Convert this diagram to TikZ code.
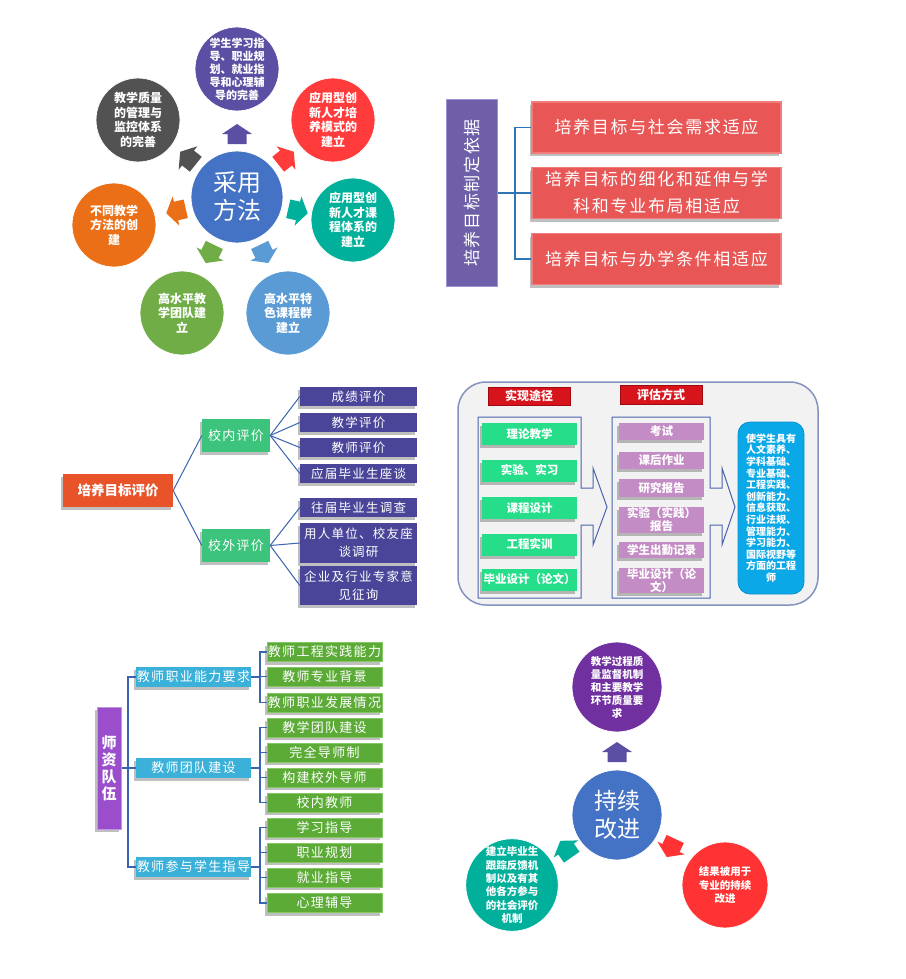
\documentclass[tikz,border=0pt]{standalone}
\usepackage{fontspec}
\setmainfont{Noto Sans CJK SC}
\newfontfamily\widefont{Noto Sans CJK SC}[LetterSpace=10]
\usetikzlibrary{shadows}
\newcommand\myfs[2]{\fontsize{#1}{#2}\selectfont}
\definecolor{cblue}{HTML}{4472C4}
\definecolor{cpurple}{HTML}{5B4FA3}
\definecolor{cred}{HTML}{FF3B3B}
\definecolor{cteal}{HTML}{00B09A}
\definecolor{cltblue}{HTML}{5B9BD5}
\definecolor{cgreen}{HTML}{70AD47}
\definecolor{corange}{HTML}{EA6F16}
\definecolor{cgray}{HTML}{525252}
\definecolor{barpurple}{HTML}{6E5FA8}
\definecolor{barpurpleL}{HTML}{9E92D4}
\definecolor{boxred}{HTML}{E85656}
\definecolor{boxredL}{HTML}{F07C7C}
\definecolor{linkblue}{HTML}{2E75B6}
\definecolor{rootred}{HTML}{E9532A}
\definecolor{treegreen}{HTML}{3CC37C}
\definecolor{navy}{HTML}{4A4598}
\definecolor{treeline}{HTML}{3A63B0}
\definecolor{bggray}{HTML}{F2F2F2}
\definecolor{framegray}{HTML}{8592BF}
\definecolor{frameblue}{HTML}{4A64AE}
\definecolor{hred}{HTML}{D7141C}
\definecolor{hdark}{HTML}{9E0A10}
\definecolor{mgreen}{HTML}{26DE8A}
\definecolor{mpink}{HTML}{C48CC4}
\definecolor{mcyan}{HTML}{0BA8E8}
\definecolor{mcyanD}{HTML}{0A8FD0}
\definecolor{tpurple}{HTML}{9A4ECB}
\definecolor{tcyan}{HTML}{3BB1D9}
\definecolor{tgreen}{HTML}{5CAB37}
\definecolor{tgreenL}{HTML}{86C765}
\definecolor{bpurple}{HTML}{7030A0}
\definecolor{bred}{HTML}{FF3333}
\definecolor{bteal}{HTML}{00B09B}
\tikzset{
  pics/barrow/.style={code={\fill[#1] (-10pt,-9.5pt) -- (0pt,-9.5pt) -- (0pt,-15pt) -- (10pt,0pt) -- (0pt,15pt) -- (0pt,9.5pt) -- (-10pt,9.5pt) -- cycle;}},
  box/.style={rectangle, inner sep=0pt, align=center, text=white},
  circ/.style={circle, inner sep=0pt, align=center, text=white, draw=white, line width=0.8pt},
  shad/.style={drop shadow={shadow xshift=-2pt,shadow yshift=-3pt,opacity=.25,fill=black}},
  conn/.style={draw=linkblue, line width=1.3pt},
  tline/.style={draw=treeline, line width=1pt},
  sline/.style={draw=treeline, line width=1.2pt},
  redbox/.style={box, fill=boxred, draw=boxredL, line width=1.5pt, minimum width=249, minimum height=51, font=\widefont\myfs{17}{27}, shad},
  navybox/.style={box, fill=navy, minimum width=117, minimum height=19, font=\widefont\myfs{12.5}{18}, shad},
  tgbox/.style={box, fill=treegreen, minimum width=68, minimum height=33, font=\widefont\myfs{13}{15}, shad},
  gbox/.style={box, fill=mgreen, minimum width=95, minimum height=22, font=\bfseries\myfs{11.5}{13}, shad},
  pbox/.style={box, fill=mpink, minimum width=85, font=\bfseries\myfs{11.5}{13}, shad},
  cybox/.style={box, fill=tcyan, minimum width=115, minimum height=20, font=\widefont\myfs{13}{15}, shad},
  grbox/.style={box, fill=tgreen, draw=tgreenL, line width=0.6pt, minimum width=115, minimum height=19, font=\widefont\myfs{13}{15}, shad},
}
\begin{document}
\begin{tikzpicture}[x=1pt,y=-1pt]
\useasboundingbox (0,0) rectangle (905,979);
\fill[white] (0,0) rectangle (905,979);

% ===== top-left: radial =====
\node[circ, fill=cblue, minimum size=92, font=\myfs{24}{28}] (cen1) at (237,197) {采用\\方法};
\node[circ, fill=cpurple, minimum size=84, font=\bfseries\myfs{11}{13}] (tl1) at (237,69) {学生学习指\\导、职业规\\划、就业指\\导和心理辅\\导的完善};
\node[circ, fill=cred, minimum size=84, font=\bfseries\myfs{12}{14.5}] (tl2) at (333,120) {应用型创\\新人才培\\养模式的\\建立};
\node[circ, fill=cteal, minimum size=84, font=\bfseries\myfs{12}{14.5}] (tl3) at (353,220) {应用型创\\新人才课\\程体系的\\建立};
\node[circ, fill=cltblue, minimum size=84, font=\bfseries\myfs{12}{14.5}] (tl4) at (288,313) {高水平特\\色课程群\\建立};
\node[circ, fill=cgreen, minimum size=84, font=\bfseries\myfs{12}{14.5}] (tl5) at (182,313) {高水平教\\学团队建\\立};
\node[circ, fill=corange, minimum size=84, font=\bfseries\myfs{12}{14.5}] (tl6) at (114,225) {不同教学\\方法的创\\建};
\node[circ, fill=cgray, minimum size=84, font=\bfseries\myfs{12}{14.5}] (tl7) at (138,120) {教学质量\\的管理与\\监控体系\\的完善};
\pic[rotate=90] at (237,134) {barrow=cpurple};
\pic[rotate=38.6] at (286,158) {barrow=cred};
\pic[rotate=-12.9] at (298,211) {barrow=cteal};
\pic[rotate=-64.3] at (264,254) {barrow=cltblue};
\pic[rotate=-115.7] at (210,254) {barrow=cgreen};
\pic[rotate=192.9] at (176,211) {barrow=corange};
\pic[rotate=141.4] at (188,158) {barrow=cgray};

% ===== top-right =====
\node[box, rotate=90, fill=barpurple, draw=barpurpleL, line width=1.5pt, minimum width=187, minimum height=51, font=\widefont\myfs{17}{20}] (bar1) at (472,193) {培养目标制定依据};
\node[redbox] (r1) at (656.5,127.5) {培养目标与社会需求适应};
\node[redbox] (r2) at (656.5,193) {培养目标的细化和延伸与学\\科和专业布局相适应};
\node[redbox] (r3) at (656.5,259) {培养目标与办学条件相适应};
\coordinate (tj) at (515,193);
\draw[conn] (bar1.south) -- (tj);
\draw[conn] (r1.west) -| (tj) |- (r3.west);
\draw[conn] (tj) -- (r2.west);

% ===== middle-left tree =====
\node[box, fill=rootred, minimum width=110, minimum height=33, font=\bfseries\myfs{13.5}{16}, shad] (root) at (118,490.5) {培养目标评价};
\node[tgbox] (xn) at (236,435.5) {校内评价};
\node[tgbox] (xw) at (236,545.5) {校外评价};
\node[navybox] (p1) at (358.5,396.5) {成绩评价};
\node[navybox] (p2) at (358.5,422.5) {教学评价};
\node[navybox] (p3) at (358.5,447.5) {教师评价};
\node[navybox] (p4) at (358.5,473.5) {应届毕业生座谈};
\node[navybox] (p5) at (358.5,507.5) {往届毕业生调查};
\node[navybox, minimum height=40] (p6) at (358.5,543) {用人单位、校友座\\谈调研};
\node[navybox, minimum height=39] (p7) at (358.5,585.5) {企业及行业专家意\\见征询};
\draw[tline] (root.east) -- (xn.west);
\draw[tline] (root.east) -- (xw.west);
\foreach \t in {p1,p2,p3,p4} \draw[tline] (xn.east) -- (\t.west);
\foreach \t in {p5,p6,p7} \draw[tline] (xw.east) -- (\t.west);

% ===== middle-right =====
\draw[draw=framegray, line width=1.5pt, fill=bggray, rounded corners=28pt] (458,382) rectangle (818,605);
\draw[draw=frameblue, line width=1pt] (478,417) -- (581,417) -- (581,488) -- (593,488) -- (593,468) -- (607,507) -- (593,545) -- (593,525) -- (581,525) -- (581,598) -- (478,598) -- cycle;
\draw[draw=frameblue, line width=1pt] (612,417) -- (710,417) -- (710,488) -- (722,488) -- (722,468) -- (735,507) -- (722,545) -- (722,525) -- (710,525) -- (710,598) -- (612,598) -- cycle;
\node[box, fill=hred, draw=hdark, line width=1pt, minimum width=82, minimum height=18, font=\bfseries\myfs{12}{14}] (h1) at (529,396) {实现途径};
\node[box, fill=hred, draw=hdark, line width=1pt, minimum width=82, minimum height=19, font=\bfseries\myfs{12}{14}] (h2) at (661,394.5) {评估方式};
\node[gbox] (g1) at (529.5,434) {理论教学};
\node[gbox] (g2) at (529.5,470.5) {实验、实习};
\node[gbox] (g3) at (529.5,508) {课程设计};
\node[gbox] (g4) at (529.5,544.5) {工程实训};
\node[gbox] (g5) at (529.5,579.5) {毕业设计（论文）};
\node[pbox, minimum height=17] (k1) at (661.5,431.5) {考试};
\node[pbox, minimum height=17] (k2) at (661.5,460.5) {课后作业};
\node[pbox, minimum height=18] (k3) at (661.5,488) {研究报告};
\node[pbox, minimum height=26] (k4) at (661.5,520) {实验（实践）\\报告};
\node[pbox, minimum height=16] (k5) at (661.5,550) {学生出勤记录};
\node[pbox, minimum height=25] (k6) at (661.5,580.5) {毕业设计（论\\文）};
\node[box, fill=mcyan, draw=mcyanD, line width=0.8pt, rounded corners=12pt, minimum width=66, minimum height=172, font=\bfseries\myfs{10}{11.6}] (goal) at (771,508) {使学生具有\\人文素养、\\学科基础、\\专业基础、\\工程实践、\\创新能力、\\信息获取、\\行业法规、\\管理能力、\\学习能力、\\国际视野等\\方面的工程\\师};

% ===== bottom-left tree =====
\node[box, fill=tpurple, draw=tpurple!60!white, line width=1pt, minimum width=24, minimum height=122, font=\bfseries\myfs{15}{17}, shad] (sz) at (109,768) {师\\资\\队\\伍};
\node[cybox] (c1) at (193.5,677) {教师职业能力要求};
\node[cybox] (c2) at (193.5,768) {教师团队建设};
\node[cybox] (c3) at (193.5,867) {教师参与学生指导};
\node[grbox] (q1) at (324.5,652) {教师工程实践能力};
\node[grbox] (q2) at (324.5,676.5) {教师专业背景};
\node[grbox] (q3) at (324.5,702.5) {教师职业发展情况};
\node[grbox] (q4) at (324.5,727.5) {教学团队建设};
\node[grbox] (q5) at (324.5,752.5) {完全导师制};
\node[grbox] (q6) at (324.5,777.5) {构建校外导师};
\node[grbox] (q7) at (324.5,802.5) {校内教师};
\node[grbox] (q8) at (324.5,827.5) {学习指导};
\node[grbox] (q9) at (324.5,852.5) {职业规划};
\node[grbox] (q10) at (324.5,877.5) {就业指导};
\node[grbox] (q11) at (324.5,903) {心理辅导};
\coordinate (sj) at (128,768);
\draw[sline] (sz.east) -- (sj);
\draw[sline] (c1.west) -| (sj) |- (c3.west);
\draw[sline] (sj) -- (c2.west);
\coordinate (j1) at (260,677);
\coordinate (j2) at (260,768);
\coordinate (j3) at (260,867);
\draw[sline] (c1.east) -- (j1);
\draw[sline] (q1.west) -| (j1) |- (q3.west);
\draw[sline] (q2.west) -| (j1);
\draw[sline] (c2.east) -- (j2);
\draw[sline] (q4.west) -| (j2) |- (q7.west);
\draw[sline] (q5.west) -| (j2);
\draw[sline] (q6.west) -| (j2);
\draw[sline] (c3.east) -- (j3);
\draw[sline] (q8.west) -| (j3) |- (q11.west);
\draw[sline] (q9.west) -| (j3);
\draw[sline] (q10.west) -| (j3);

% ===== bottom-right =====
\node[circ, fill=cblue, minimum size=90, font=\myfs{23}{28}] (cen2) at (617,815) {持续\\改进};
\node[circ, fill=bpurple, minimum size=90, font=\bfseries\myfs{10.5}{13}] (br1) at (617,687) {教学过程质\\量监督机制\\和主要教学\\环节质量要\\求};
\node[circ, fill=bteal, minimum size=88, font=\bfseries\myfs{10.5}{13.3}] (br2) at (512,885) {建立毕业生\\跟踪反馈机\\制以及有其\\他各方参与\\的社会评价\\机制};
\node[circ, fill=bred, minimum size=86, font=\bfseries\myfs{10.5}{13.3}] (br3) at (725,885) {结果被用于\\专业的持续\\改进};
\pic[rotate=90] at (617,752) {barrow=cpurple};
\pic[rotate=125] at (566,849) {barrow=bteal};
\pic[rotate=245] at (671,848) {barrow=bred};
\end{tikzpicture}
\end{document}
